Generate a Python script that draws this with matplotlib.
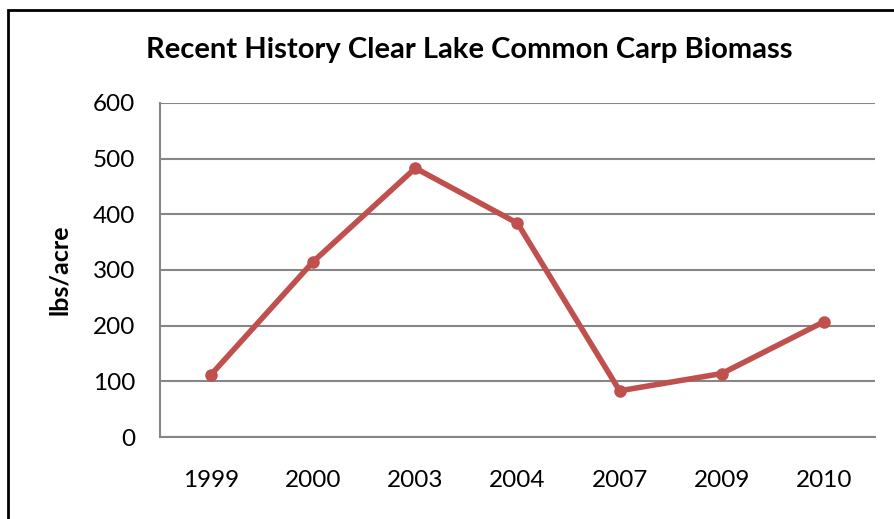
import matplotlib
matplotlib.use("Agg")
import matplotlib.pyplot as plt
from matplotlib.patches import Rectangle

years = ["1999", "2000", "2003", "2004", "2007", "2009", "2010"]
biomass = [112, 315, 483, 384, 83, 114, 207]
y_ticks = [0, 100, 200, 300, 400, 500, 600]

plt.rcParams['font.family'] = ['Lato', 'DejaVu Sans']

W, H = 895, 519
fig = plt.figure(figsize=(W / 100, H / 100), dpi=100)
ax = fig.add_axes([160 / W, 1 - 437 / H, (875 - 160) / W, (437 - 103) / H])

x = list(range(len(years)))
ax.plot(x, biomass, color="#C0504D", linewidth=4, marker="o", markersize=8,
        solid_capstyle="round", zorder=3)

ax.set_xlim(-0.5, len(years) - 0.5)
ax.set_ylim(0, 600)
ax.set_yticks(y_ticks)
ax.set_xticks(x)
ax.set_xticklabels(years)
ax.grid(axis="y", color="#868686", linewidth=1.5)
ax.set_axisbelow(True)
for s in ["top", "right"]:
    ax.spines[s].set_visible(False)
for s in ["left", "bottom"]:
    ax.spines[s].set_color("#868686")
    ax.spines[s].set_linewidth(1.5)
ax.tick_params(axis="both", length=0, labelsize=17.5, colors="black")
ax.tick_params(axis="x", pad=24)
ax.tick_params(axis="y", pad=18)
ax.set_ylabel("lbs/acre", fontsize=18, fontweight="bold")
ax.yaxis.set_label_coords((71 - 160) / (875 - 160), 0.5)

fig.text(469 / W, 1 - 50 / H, "Recent History Clear Lake Common Carp Biomass",
         ha="center", va="center", fontsize=21, fontweight="bold")

fig.patches.append(Rectangle((8 / W, -0.1), 1.2, 1 - 10 / H + 0.1,
                             transform=fig.transFigure, fill=False,
                             edgecolor="black", linewidth=2, figure=fig))

fig.savefig("out.png", dpi=100)
